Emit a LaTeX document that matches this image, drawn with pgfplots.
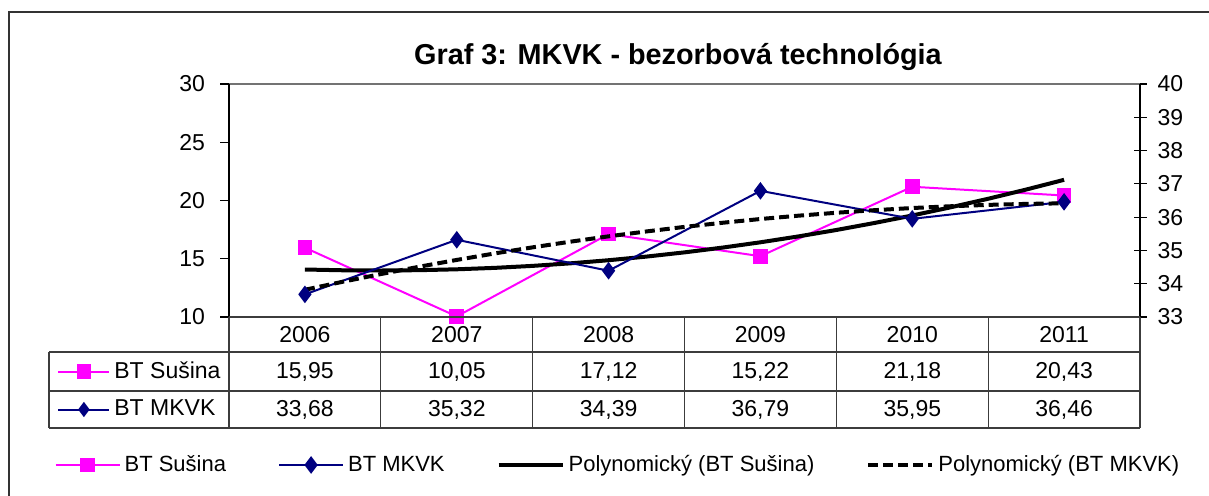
\documentclass[border=0pt]{standalone}
\usepackage{pgfplots}
\usepackage{pgfplotstable}
\pgfplotsset{compat=1.18}
\usepackage{fontspec}
\setmainfont{Liberation Sans}
\definecolor{pinkS}{RGB}{255,0,255}
\definecolor{navyM}{RGB}{0,0,128}
\definecolor{linegray}{RGB}{60,60,60}

\pgfplotstableread{
x y
0 15.95
1 10.05
2 17.12
3 15.22
4 21.18
5 20.43
}\susina
\pgfplotstableread{
x y
0 33.68
1 35.32
2 34.39
3 36.79
4 35.95
5 36.46
}\mkvk
\pgfplotstableread{
x y
0.00 14.077
0.25 14.011
0.50 13.991
0.75 14.019
1.00 14.095
1.25 14.218
1.50 14.389
1.75 14.608
2.00 14.874
2.25 15.187
2.50 15.548
2.75 15.957
3.00 16.413
3.25 16.917
3.50 17.469
3.75 18.068
4.00 18.714
4.25 19.408
4.50 20.150
4.75 20.939
5.00 21.776
}\susinatrend
\pgfplotstableread{
x y
0.00 33.818
0.25 34.060
0.50 34.290
0.75 34.508
1.00 34.715
1.25 34.910
1.50 35.093
1.75 35.264
2.00 35.424
2.25 35.571
2.50 35.707
2.75 35.831
3.00 35.944
3.25 36.044
3.50 36.132
3.75 36.209
4.00 36.274
4.25 36.327
4.50 36.369
4.75 36.398
5.00 36.416
}\mkvktrend

\newcommand{\bodyfont}{\fontsize{11}{13}\selectfont}
\newcommand{\tickfont}{\fontsize{11.5}{13}\selectfont}

\pgfplotsset{
  base/.style={
    at={(114.5pt,89pt)}, anchor=south west,
    scale only axis, width=455.5pt, height=116.5pt,
    xmin=-0.5, xmax=5.5,
    xtick=\empty,
    axis line style={draw=none},
    tick style={black, line width=0.6pt},
    /pgf/number format/assume math mode=true,
    tick label style={font=\tickfont},
    clip=false,
  },
}

\begin{document}
\begin{tikzpicture}[x=0.5pt,y=0.5pt]
\useasboundingbox (0,0) rectangle (1209,495);

% frame
\draw[line width=0.8pt, black!80] (9,-10) -- (9,483) -- (1220,483);

% title
\node[font=\fontsize{14.4}{17}\selectfont\bfseries] at (678,438) {Graf 3: MKVK - bezorbová technológia};

% left axis: BT Sušina
\begin{axis}[base,
  ymin=10, ymax=30, ytick={10,15,20,25,30},
  ytick pos=left, tick align=outside, major tick length=4.5pt,
  yticklabel style={xshift=-4pt},
]
\addplot[pinkS, line width=1pt, mark=square*, mark size=3.2pt] table[x=x,y=y]{\susina};
\addplot[black, line width=2pt, no marks] table[x=x,y=y]{\susinatrend};
\end{axis}

% right axis: BT MKVK
\begin{axis}[base,
  ymin=33, ymax=40, ytick={33,34,35,36,37,38,39,40},
  axis y line*=right, axis x line=none,
  tick align=center, major tick length=6.5pt,
  yticklabel style={xshift=2pt},
  legend style={at={(0.428,-0.635)}, anchor=center, draw=none, fill=none,
    legend columns=4, font=\bodyfont,
    /tikz/every even column/.append style={column sep=24pt}},
  legend image code/.code={\draw[mark repeat=2,mark phase=2,#1] plot coordinates {(0pt,0pt) (16pt,0pt) (32pt,0pt)};},
]
\addlegendimage{pinkS, line width=1pt, mark=square*, mark size=3.2pt}
\addlegendentry{BT Sušina}
\addplot[navyM, line width=1pt, mark=diamond*, mark size=3.6pt] table[x=x,y=y]{\mkvk};
\addlegendentry{BT MKVK}
\addlegendimage{black, line width=2pt, no marks}
\addlegendentry{Polynomický (BT Sušina)}
\addplot[black, line width=2pt, no marks, dash pattern=on 5pt off 2.5pt] table[x=x,y=y]{\mkvktrend};
\addlegendentry{Polynomický (BT MKVK)}
\end{axis}

% row keys of the data table
\begin{axis}[
  at={(114.5pt,89pt)}, anchor=south west,
  scale only axis, width=455.5pt, height=116.5pt,
  xmin=0, xmax=1, ymin=0, ymax=1, hide axis,
  legend style={at={(-0.1888,-0.2339)}, anchor=west, draw=none, fill=none, inner sep=0pt, font=\tickfont},
  legend image code/.code={\draw[mark repeat=2,mark phase=2,#1] plot coordinates {(0pt,0pt) (12.75pt,0pt) (25.5pt,0pt)};},
]
\addlegendimage{pinkS, line width=1pt, mark=square*, mark size=3.2pt}
\addlegendentry{BT Sušina}
\end{axis}
\begin{axis}[
  at={(114.5pt,89pt)}, anchor=south west,
  scale only axis, width=455.5pt, height=116.5pt,
  xmin=0, xmax=1, ymin=0, ymax=1, hide axis,
  legend style={at={(-0.1888,-0.397)}, anchor=west, draw=none, fill=none, inner sep=0pt, font=\tickfont},
  legend image code/.code={\draw[mark repeat=2,mark phase=2,#1] plot coordinates {(0pt,0pt) (12.75pt,0pt) (25.5pt,0pt)};},
]
\addlegendimage{navyM, line width=1pt, mark=diamond*, mark size=3pt}
\addlegendentry{BT MKVK}
\end{axis}

% plot area borders
\draw[line width=0.6pt, black!55] (229,411) -- (1140,411);
\draw[line width=0.6pt, black] (229,411) -- (229,178);
\draw[line width=0.6pt, black] (1140,411) -- (1140,178);

% data table grid
\draw[line width=0.6pt, linegray] (229,178) -- (1140,178);
\draw[line width=0.6pt, linegray] (49,143) -- (1140,143);
\draw[line width=0.6pt, linegray] (49,104) -- (1140,104);
\draw[line width=0.6pt, linegray] (49,67) -- (1140,67);
\draw[line width=0.6pt, linegray] (49,143) -- (49,67);
\foreach \xx in {229,380.8,532.7,684.5,836.3,988.2,1140}
  \draw[line width=0.6pt, linegray] (\xx,178) -- (\xx,67);

\begin{scope}[every node/.style={font=\tickfont}]
\node at (304.9,160.5) {2006};
\node at (456.8,160.5) {2007};
\node at (608.6,160.5) {2008};
\node at (760.4,160.5) {2009};
\node at (912.3,160.5) {2010};
\node at (1064.1,160.5) {2011};
\node at (304.9,123.5) {15,95};
\node at (456.8,123.5) {10,05};
\node at (608.6,123.5) {17,12};
\node at (760.4,123.5) {15,22};
\node at (912.3,123.5) {21,18};
\node at (1064.1,123.5) {20,43};
\node at (304.9,85.5) {33,68};
\node at (456.8,85.5) {35,32};
\node at (608.6,85.5) {34,39};
\node at (760.4,85.5) {36,79};
\node at (912.3,85.5) {35,95};
\node at (1064.1,85.5) {36,46};
\end{scope}
\end{tikzpicture}
\end{document}
